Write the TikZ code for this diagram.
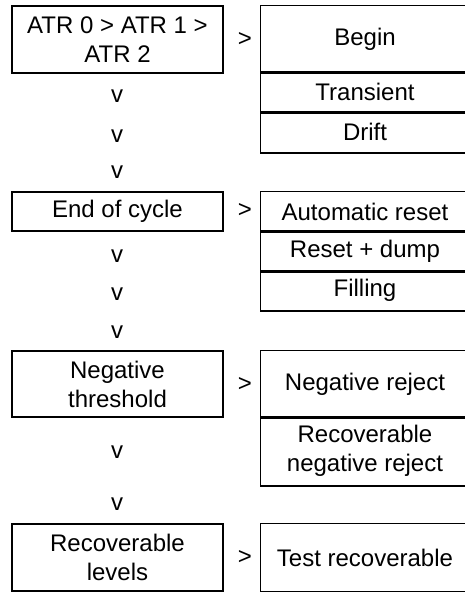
\documentclass[tikz,border=0pt]{standalone}
\usepackage{fontspec}
\setmainfont{Liberation Sans}
\newcommand\bigfont{\fontsize{24}{29}\selectfont}
\tikzset{
  box/.style={draw, line width=1.5pt, inner sep=0pt, align=center, font=\bigfont},
  lbox/.style={box, minimum width=211pt},
  rbox/.style={box, draw=none, minimum width=208pt},
  edge/.style={line width=1.5pt},
  sym/.style={font=\bigfont, inner sep=0pt},
}
\begin{document}
\begin{tikzpicture}[x=1pt,y=-1pt]
\useasboundingbox (0,0) rectangle (464,592);
% row 1
\node[lbox, minimum height=67pt] (a) at (117.5,39.5) {ATR 0 > ATR 1 >\\ATR 2};
\node[sym] (ga) at (245,40) {>};
\node[rbox, minimum height=66pt] (begin) at (365,39) {Begin};
\node[rbox, minimum height=40pt] (transient) at (365,92) {Transient};
\node[rbox, minimum height=40pt] (drift) at (365,132) {Drift};
\node[sym, anchor=base] (v1) at (117,102) {v};
\node[sym, anchor=base] (v2) at (117,142) {v};
\node[sym, anchor=base] (v3) at (117,178) {v};
% row 2
\node[lbox, minimum height=39pt] (b) at (117.5,211.5) {End of cycle};
\node[sym] (gb) at (245,211) {>};
\node[rbox, minimum height=39pt] (autoreset) at (365,211.5) {Automatic reset};
\node[rbox, minimum height=40pt] (resetdump) at (365,251) {Reset + dump};
\node[rbox, minimum height=39pt] (filling) at (365,290.5) {Filling};
\node[sym, anchor=base] (v4) at (117,262) {v};
\node[sym, anchor=base] (v5) at (117,300) {v};
\node[sym, anchor=base] (v6) at (117,338) {v};
% row 3
\node[lbox, minimum height=66pt] (c) at (117.5,384) {Negative\\threshold};
\node[sym] (gc) at (245,384) {>};
\node[rbox, minimum height=66pt] (negrej) at (365,384) {Negative reject};
\node[rbox, minimum height=68pt] (recneg) at (365,451) {Recoverable\\negative reject};
\node[sym, anchor=base] (v7) at (117,458) {v};
\node[sym, anchor=base] (v8) at (117,510) {v};
% row 4
\node[lbox, minimum height=67pt] (d) at (117.5,557.5) {Recoverable\\levels};
\node[sym] (gd) at (245,557.5) {>};
\node[rbox, minimum height=67pt] (test) at (365,557.5) {Test recoverable};
% right cells: open on the right (cut off by the page edge)
\foreach \n in {begin,transient,drift,autoreset,resetdump,filling,negrej,recneg,test}
  \draw[edge] ([xshift=30pt]\n.north east) -- (\n.north west) -- (\n.south west) -- ([xshift=30pt]\n.south east);
\end{tikzpicture}
\end{document}
